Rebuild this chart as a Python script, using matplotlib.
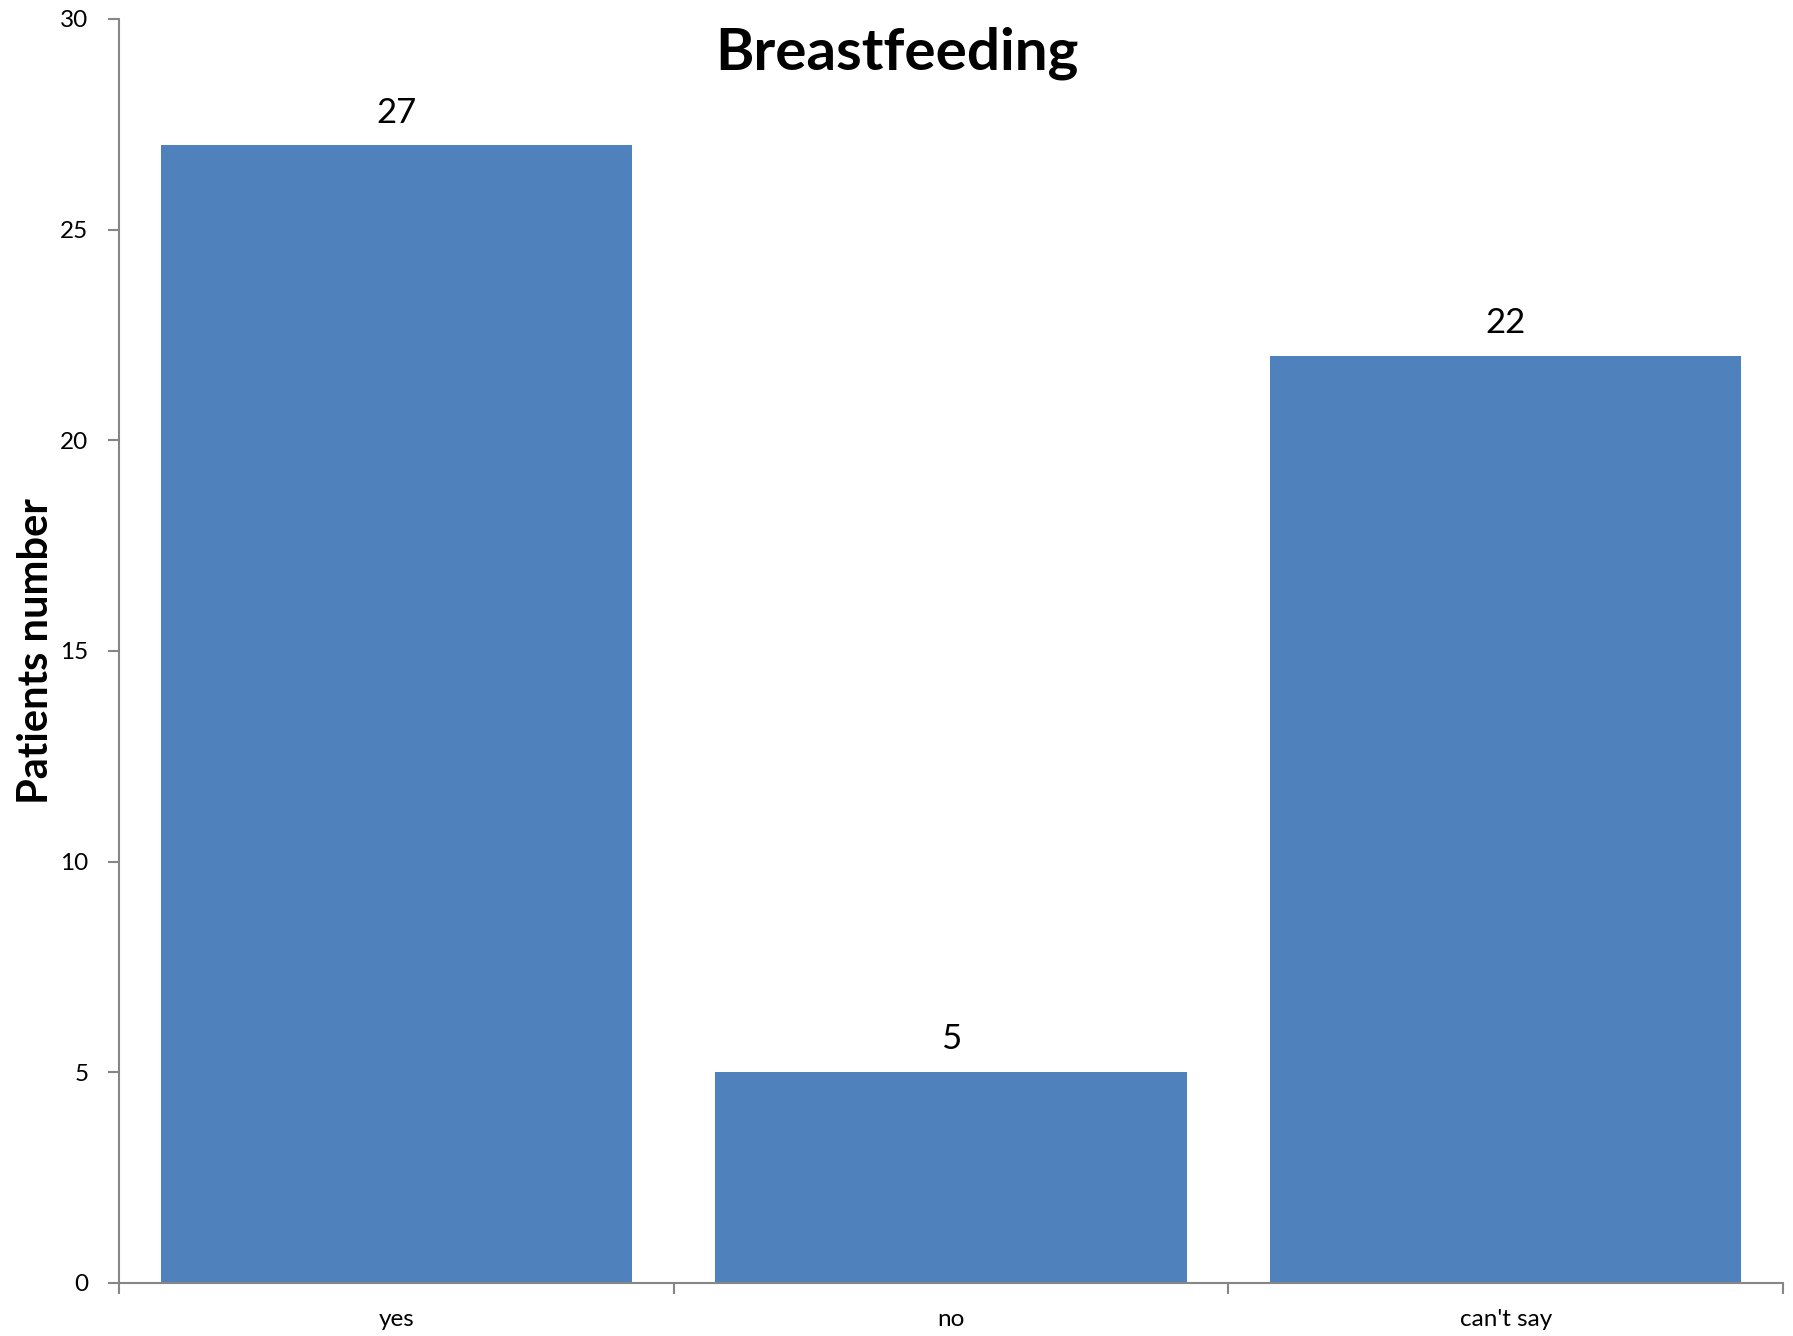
import numpy as np
import matplotlib.pyplot as plt

categories = ['yes', 'no', "can't say"]
counts = [27, 5, 22]

plt.rcParams['font.family'] = ['Lato', 'DejaVu Sans']

fig = plt.figure(figsize=(17.93, 13.36), dpi=100)
ax = fig.add_axes([0.0664, 0.0397, 0.928, 0.9461])

x = np.arange(len(categories))
bars = ax.bar(x, counts, width=0.85, color='#4F81BD', zorder=2)

for b, v in zip(bars, counts):
    ax.text(b.get_x() + b.get_width() / 2, v + 0.4, str(v),
            ha='center', va='bottom', fontsize=25)

ax.set_xlim(-0.5, len(categories) - 0.5)
ax.set_ylim(0, 30)
ax.set_yticks(range(0, 31, 5))
ax.set_xticks(np.arange(-0.5, len(categories), 1.0))
ax.set_xticklabels([])
ax.set_xticks(x, minor=True)
ax.set_xticklabels(categories, minor=True)

grey = '#868686'
for s in ['top', 'right']:
    ax.spines[s].set_visible(False)
for s in ['left', 'bottom']:
    ax.spines[s].set_color(grey)
    ax.spines[s].set_linewidth(1.5)

ax.tick_params(axis='y', length=8, width=1.5, color=grey, labelsize=17.5, pad=14)
ax.tick_params(axis='x', which='major', length=8, width=1.5, color=grey)
ax.tick_params(axis='x', which='minor', length=0, labelsize=17.5, pad=19)

ax.set_ylabel('Patients number', fontsize=30, fontweight='bold', labelpad=4)
fig.text(0.5, 0.96, 'Breastfeeding', ha='center', va='center',
         fontsize=42, fontweight='bold')

fig.savefig('out.png', dpi=100)
